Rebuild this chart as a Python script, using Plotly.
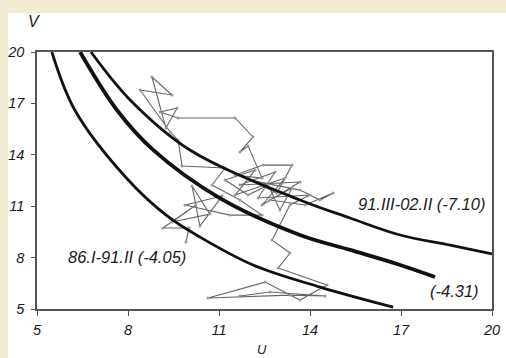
import plotly.graph_objects as go

# Curves (U, V)
curve_a_u = [5.49, 6.25, 7.97, 9.29, 10.37, 12.12, 14.33, 16.74]
curve_a_v = [20.0, 16.6, 12.6, 10.43, 9.2, 7.57, 6.28, 5.11]

curve_b_u = [6.42, 7.64, 8.82, 11.0, 13.67, 15.32, 16.97, 18.12]
curve_b_v = [20.0, 16.6, 14.3, 11.5, 9.32, 8.45, 7.57, 6.87]

curve_c_u = [6.78, 8.07, 10.04, 13.67, 15.32, 16.97, 18.62, 20.0]
curve_c_v = [20.0, 17.2, 14.28, 11.36, 10.31, 9.32, 8.73, 8.21]

# Trajectory (U, V)
path_u = [9.91, 10.01, 9.15, 10.24, 9.45, 10.70, 10.11, 10.37, 11.10, 9.88,
          11.36, 12.42, 11.69, 10.77, 11.20, 9.78, 9.65, 9.39, 8.40, 9.45,
          8.79, 9.25, 9.62, 9.06, 9.65, 11.53, 12.12, 11.69, 11.96, 12.42,
          11.53, 12.45, 13.41, 12.91, 12.02, 13.67, 14.33, 14.76, 13.84, 12.68,
          13.41, 13.01, 12.62, 11.96,
          11.20, 12.19, 11.53, 13.18, 12.42, 13.67, 11.69, 12.85, 12.29, 14.00, 13.34,
          12.75, 13.34, 12.95, 14.56, 13.67, 12.52,
          10.64, 13.34, 14.50, 12.68, 11.69]
path_v = [8.91, 9.73, 9.73, 11.07, 10.08, 10.54, 12.18, 9.84, 11.59, 11.07,
          10.48, 10.48, 11.36, 12.24, 13.23, 13.35, 14.86, 15.33, 17.78, 17.49,
          18.54, 15.56, 16.73, 16.50, 16.15, 16.15, 15.04, 14.16, 14.51, 12.64,
          12.82, 13.40, 13.40, 11.77, 12.53, 11.94, 11.36, 11.77, 11.07, 11.36,
          12.06, 10.78, 12.24, 11.65,
          12.53, 13.11, 11.65, 12.64, 11.07, 12.41, 12.24, 13.00, 11.48, 11.65, 11.07,
          9.02, 8.27, 7.39, 6.40, 5.52, 6.57,
          5.64, 5.81, 5.76, 5.99, 5.76]

tick_vals = [5, 8, 11, 14, 17, 20]
tick_text = ["5", "8", "11", "14", "17", "20"]

labels_text = ["91.III-02.II (-7.10)", "(-4.31)", "86.I-91.II (-4.05)"]
labels_u = [17.66, 18.78, 7.97]
labels_v = [11.13, 6.05, 8.03]

FONT = "Liberation Sans, Arial, sans-serif"
TXT = "#1a1a1a"
fig = go.Figure()

fig.add_trace(go.Scatter(x=path_u, y=path_v, mode="lines+markers",
                         line=dict(color="#666666", width=1.1),
                         marker=dict(size=3, color="#999999"),
                         showlegend=False, hoverinfo="skip"))

for cu, cv, w in [(curve_a_u, curve_a_v, 2.8), (curve_b_u, curve_b_v, 3.8), (curve_c_u, curve_c_v, 2.8)]:
    fig.add_trace(go.Scatter(x=cu, y=cv, mode="lines",
                             line=dict(color="#111111", width=w, shape="spline", smoothing=1.0),
                             showlegend=False, hoverinfo="skip"))

for t, u, v in zip(labels_text, labels_u, labels_v):
    fig.add_annotation(x=u, y=v, xref="x", yref="y", text=t, showarrow=False,
                       font=dict(family=FONT, size=16.5, color=TXT, style="italic"))

# Axis titles
fig.add_annotation(x=-0.0066, y=1.1206, xref="paper", yref="paper", text="V", showarrow=False,
                   xanchor="center", yanchor="middle",
                   font=dict(family=FONT, size=16, color=TXT, style="italic"))
fig.add_annotation(x=0.4945, y=-0.121, xref="paper", yref="paper", text="U", showarrow=False,
                   xanchor="center", yanchor="top",
                   font=dict(family=FONT, size=13, color=TXT, style="italic"))

# Beige background bands
beige = "#F2EBD4"
fig.add_shape(type="rect", xref="paper", yref="paper", x0=-0.0813, x1=1.0308, y0=1.1518, y1=1.2023,
              fillcolor=beige, line=dict(width=0), layer="below")
fig.add_shape(type="rect", xref="paper", yref="paper", x0=-0.0813, x1=-0.0637, y0=-0.1907, y1=1.2023,
              fillcolor=beige, line=dict(width=0), layer="below")

axis_common = dict(showgrid=False, zeroline=False, showline=True, linecolor="#555555", linewidth=1.6,
                   mirror=True, ticks="outside", ticklen=4, tickwidth=1.2, tickcolor="#555555",
                   tickvals=tick_vals, ticktext=tick_text, range=[5, 20], automargin=False,
                   tickfont=dict(family=FONT, size=14.5, color=TXT, style="italic"))

fig.update_layout(
    width=506, height=358, autosize=False,
    margin=dict(l=37, r=14, t=52, b=49, autoexpand=False),
    paper_bgcolor="white", plot_bgcolor="white",
    xaxis=dict(**axis_common),
    yaxis=dict(**axis_common),
)
fig.update_xaxes(ticklen=5, ticklabelstandoff=2)
fig.update_yaxes(ticklabelstandoff=4)

fig.write_html("out.html", config={"displayModeBar": False},
               post_script="document.body.style.margin='0';document.body.style.overflow='hidden';")
